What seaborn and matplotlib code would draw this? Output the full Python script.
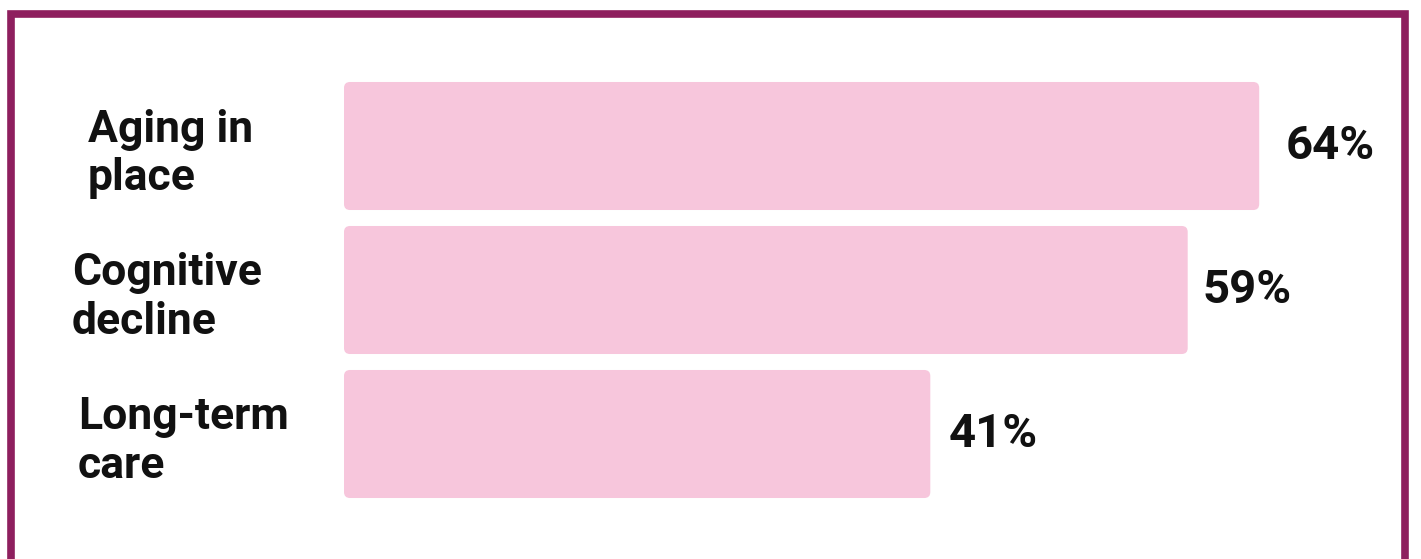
import matplotlib
matplotlib.use("Agg")
import matplotlib.pyplot as plt
import matplotlib.transforms as mtransforms
import seaborn as sns
import pandas as pd
from matplotlib.patches import FancyBboxPatch, Rectangle

categories = ["Aging in\nplace", "Cognitive\ndecline", "Long-term\ncare"]
values = [64, 59, 41]
value_labels = ["64%", "59%", "41%"]

sns.set_theme(style="white")
plt.rcParams['font.family'] = ['Roboto', 'DejaVu Sans']

W, H = 1421, 559
fig = plt.figure(figsize=(W / 100, H / 100), dpi=100)
fig.patch.set_facecolor("white")

ax_left = 344 / W
ax_width = 1001 / W  # 70 units * 14.3 px
ax_bottom = (H - 506) / H
ax_height = 432 / H
ax = fig.add_axes([ax_left, ax_bottom, ax_width, ax_height])

df = pd.DataFrame({"category": categories, "value": values})
bar_color = "#F7C6DC"
sns.barplot(data=df, y="category", x="value", orient="h", color=bar_color,
            width=0.889, saturation=1, ax=ax, edgecolor="none")

ax.set_xlim(0, 70)
ax.set_ylim(2.5, -0.5)

# rounded corners
px_x = ax_width * W / 70.0
px_y = ax_height * H / 3.0
r_px = 6
for p in list(ax.patches):
    x, y = p.get_x(), p.get_y()
    w, h = p.get_width(), p.get_height()
    p.remove()
    fb = FancyBboxPatch((x, y), w, h,
                        boxstyle=f"round,pad=0,rounding_size={r_px / px_x}",
                        mutation_aspect=px_x / px_y,
                        facecolor=bar_color, edgecolor="none")
    ax.add_patch(fb)

value_offsets_pt = [19, 11, 13]
for i, (v, lab) in enumerate(zip(values, value_labels)):
    ax.annotate(lab, xy=(v, i), xytext=(value_offsets_pt[i], 0),
                textcoords="offset points",
                ha="left", va="center", fontsize=34, fontweight="bold",
                color="#111111")

ax.set_yticks(range(len(categories)))
ax.set_yticklabels(categories, fontsize=32, fontweight="bold", color="#111111",
                   ha="left", linespacing=1.2)
ax.tick_params(axis="y", length=0, pad=(344 - 78) * 72 / 100)
label_shift_px = [10, -6, 0]
for lbl, dx in zip(ax.get_yticklabels(), label_shift_px):
    lbl.set_transform(lbl.get_transform() +
                      mtransforms.ScaledTranslation(dx / 100, 0, fig.dpi_scale_trans))
ax.set_xticks([])
ax.set_xlabel("")
ax.set_ylabel("")
for s in ax.spines.values():
    s.set_visible(False)

# frame border
border = Rectangle((11 / W, -0.1), (1405 - 11) / W, 1 - 14 / H + 0.1,
                   transform=fig.transFigure, fill=False,
                   edgecolor="#8E1F5E", linewidth=5.5, clip_on=False)
fig.patches.append(border)

fig.savefig("out.png", dpi=100, facecolor="white")
